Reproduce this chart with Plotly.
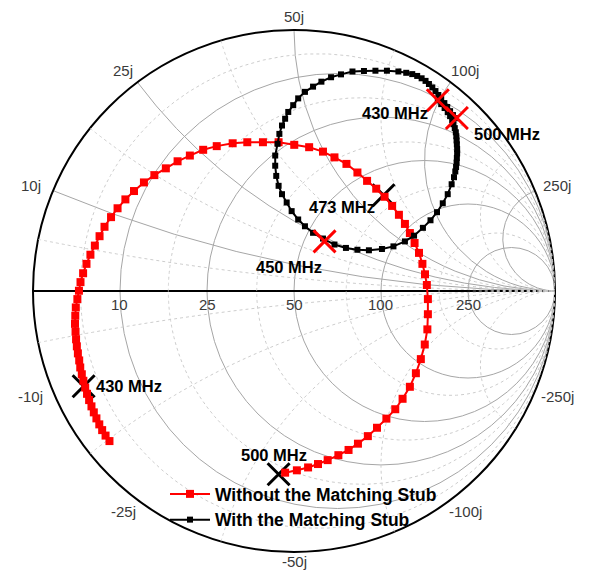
import numpy as np
import plotly.graph_objects as go

# Measured reflection coefficient S11 (real / imaginary parts), Z0 = 50 ohm
s11_without_re = [-0.707, -0.722, -0.735, -0.746, -0.757, -0.767, -0.776, -0.785, -0.793, -0.800,
                  -0.807, -0.813, -0.819, -0.823, -0.828, -0.832, -0.835, -0.837, -0.839, -0.838,
                  -0.836, -0.830, -0.824, -0.818, -0.808, -0.795, -0.780, -0.763, -0.745, -0.726,
                  -0.701, -0.676, -0.646, -0.613, -0.575, -0.535, -0.491, -0.446, -0.399, -0.348,
                  -0.296, -0.235, -0.179, -0.119, -0.059, 0.001, 0.058, 0.111, 0.155, 0.201,
                  0.243, 0.280, 0.315, 0.347, 0.376, 0.402, 0.425, 0.444, 0.462, 0.479,
                  0.492, 0.502, 0.509, 0.513, 0.513, 0.511, 0.501, 0.486, 0.467, 0.444,
                  0.416, 0.388, 0.354, 0.318, 0.283, 0.245, 0.209, 0.170, 0.129, 0.092,
                  0.054, 0.011, -0.034]
s11_without_im = [-0.575, -0.554, -0.533, -0.511, -0.488, -0.465, -0.442, -0.418, -0.394, -0.370,
                  -0.344, -0.319, -0.293, -0.266, -0.239, -0.212, -0.185, -0.156, -0.126, -0.095,
                  -0.063, -0.031, 0.001, 0.034, 0.068, 0.104, 0.139, 0.174, 0.210, 0.246,
                  0.283, 0.317, 0.351, 0.383, 0.416, 0.444, 0.470, 0.497, 0.519, 0.541,
                  0.555, 0.566, 0.570, 0.570, 0.570, 0.560, 0.551, 0.534, 0.512, 0.487,
                  0.454, 0.422, 0.392, 0.361, 0.326, 0.292, 0.257, 0.222, 0.184, 0.146,
                  0.104, 0.064, 0.023, -0.031, -0.089, -0.147, -0.205, -0.261, -0.315, -0.367,
                  -0.413, -0.453, -0.489, -0.524, -0.556, -0.585, -0.609, -0.629, -0.648, -0.663,
                  -0.676, -0.687, -0.696]

s11_with_re = [0.551, 0.564, 0.577, 0.589, 0.598, 0.606, 0.611, 0.616, 0.620, 0.622,
               0.623, 0.624, 0.625, 0.625, 0.624, 0.623, 0.621, 0.618, 0.613, 0.604,
               0.589, 0.570, 0.548, 0.523, 0.494, 0.460, 0.425, 0.381, 0.337, 0.287,
               0.243, 0.199, 0.155, 0.111, 0.073, 0.042, 0.016, -0.009, -0.028, -0.046,
               -0.059, -0.068, -0.072, -0.072, -0.063, -0.056, -0.046, -0.034, -0.022, -0.003,
               0.016, 0.042, 0.073, 0.105, 0.142, 0.180, 0.224, 0.268, 0.312, 0.356,
               0.400, 0.430, 0.453, 0.472, 0.489, 0.504, 0.517, 0.530, 0.542, 0.553,
               0.564, 0.576, 0.587, 0.598, 0.609, 0.619]
s11_with_im = [0.731, 0.716, 0.701, 0.685, 0.670, 0.654, 0.639, 0.624, 0.608, 0.593,
               0.577, 0.562, 0.544, 0.527, 0.510, 0.492, 0.475, 0.458, 0.436, 0.409,
               0.371, 0.336, 0.302, 0.271, 0.242, 0.212, 0.190, 0.171, 0.161, 0.156,
               0.158, 0.165, 0.178, 0.201, 0.223, 0.248, 0.274, 0.306, 0.339, 0.371,
               0.403, 0.441, 0.480, 0.519, 0.564, 0.602, 0.634, 0.660, 0.686, 0.712,
               0.738, 0.763, 0.783, 0.802, 0.819, 0.830, 0.841, 0.843, 0.844, 0.844,
               0.841, 0.836, 0.831, 0.824, 0.815, 0.805, 0.793, 0.780, 0.766, 0.751,
               0.736, 0.720, 0.705, 0.689, 0.674, 0.662]

# Frequency markers on each curve
mark_without_freq = ["430 MHz", "473 MHz", "500 MHz"]
mark_without_re = [-0.806, 0.343, -0.059]
mark_without_im = [-0.365, 0.367, -0.702]
mark_with_freq = ["430 MHz", "450 MHz", "500 MHz"]
mark_with_re = [0.551, 0.117, 0.624]
mark_with_im = [0.731, 0.190, 0.663]

Z0 = 50
resistance_ticks = [10, 25, 50, 100, 250]     # ohm
reactance_ticks = [10, 25, 50, 100, 250]      # ohm
minor_grid = [5, 17.5, 37.5, 75, 175]         # ohm

W, H = 592, 571
CX, CY, RAD = 294, 291, 261                   # chart centre and radius in px
FONT = "Liberation Sans, Arial, Helvetica, sans-serif"


def to_z(re, im):
    g = np.asarray(re) + 1j * np.asarray(im)
    return (1 + g) / (1 - g)


def paper(px, py):
    return px / W, 1 - py / H


def gamma_xy(g):
    return CX + RAD * g.real, CY - RAD * g.imag


fig = go.Figure()

# dotted minor grid
sweep = np.concatenate([-np.geomspace(1e3, 1e-3, 150), [0], np.geomspace(1e-3, 1e3, 150)])
half = np.concatenate([[0], np.geomspace(1e-3, 1e3, 200)])
minor_line = dict(color="#cdcdcd", width=1, dash="dot")
for v in minor_grid:
    n = v / Z0
    fig.add_trace(go.Scattersmith(real=np.full(sweep.size, n), imag=sweep, mode="lines",
                                  line=minor_line, hoverinfo="skip", showlegend=False))
    for s in (1, -1):
        fig.add_trace(go.Scattersmith(real=half, imag=np.full(half.size, s * n), mode="lines",
                                      line=minor_line, hoverinfo="skip", showlegend=False))

# black crosses on the curve without the stub (drawn beneath the curves)
zm = to_z(mark_without_re, mark_without_im)
fig.add_trace(go.Scattersmith(real=zm.real, imag=zm.imag, mode="markers",
                              marker=dict(symbol="x-thin", size=22, line=dict(width=3, color="black")),
                              showlegend=False, hoverinfo="skip"))

z1 = to_z(s11_without_re, s11_without_im)
fig.add_trace(go.Scattersmith(real=z1.real, imag=z1.imag, mode="lines+markers",
                              name="Without the Matching Stub",
                              line=dict(color="#ff0000", width=2),
                              marker=dict(symbol="square", size=8, color="#ff0000")))

z2 = to_z(s11_with_re, s11_with_im)
fig.add_trace(go.Scattersmith(real=z2.real, imag=z2.imag, mode="lines+markers",
                              name="With the Matching Stub",
                              line=dict(color="black", width=2),
                              marker=dict(symbol="square", size=6, color="black")))

zw = to_z(mark_with_re, mark_with_im)
fig.add_trace(go.Scattersmith(real=zw.real, imag=zw.imag, mode="markers",
                              marker=dict(symbol="x-thin", size=22, line=dict(width=3, color="#ff0000")),
                              showlegend=False, hoverinfo="skip"))

annotations = []

# reactance labels around the rim
for x in reactance_ticks:
    for s in (1, -1):
        g = (1j * s * x / Z0 - 1) / (1j * s * x / Z0 + 1)
        ang = np.angle(g)
        px = CX + np.cos(ang) * (RAD + 24)
        py = CY - np.sin(ang) * (RAD + 14)
        py = min(max(py, 15), 561)
        ax, ay = paper(px, py)
        annotations.append(dict(x=ax, y=ay, xref="paper", yref="paper", showarrow=False,
                                text=f"{'-' if s < 0 else ''}{x}j",
                                font=dict(family=FONT, size=15, color="#3a3a3a"),
                                xanchor="center", yanchor="middle"))

# resistance labels under the real axis
for r in resistance_ticks:
    g = (r / Z0 - 1) / (r / Z0 + 1)
    ax, ay = paper(CX + RAD * g, CY + 13)
    annotations.append(dict(x=ax, y=ay, xref="paper", yref="paper", showarrow=False,
                            text=str(r), font=dict(family=FONT, size=15, color="#3a3a3a"),
                            xanchor="center", yanchor="middle"))

# frequency labels, offset in px from their markers
offs_without = [(10, 0, "left"), (-42, 12, "center"), (-5, -19, "center")]
offs_with = [(-43, 13, "center"), (-36, 26, "center"), (50, 16, "center")]
for freqs, res, ims, offs in ((mark_without_freq, mark_without_re, mark_without_im, offs_without),
                              (mark_with_freq, mark_with_re, mark_with_im, offs_with)):
    for f, a, b, (dx, dy, anc) in zip(freqs, res, ims, offs):
        px, py = gamma_xy(complex(a, b))
        ax, ay = paper(px + dx, py + dy)
        annotations.append(dict(x=ax, y=ay, xref="paper", yref="paper", showarrow=False,
                                text=f, font=dict(family=FONT, size=16.5, color="black", weight="bold"),
                                xanchor=anc, yanchor="middle"))

fig.update_layout(
    width=W, height=H,
    margin=dict(l=0, r=0, t=0, b=0),
    paper_bgcolor="white",
    smith=dict(
        domain=dict(x=[(CX - RAD) / W, (CX + RAD) / W], y=[1 - (CY + RAD) / H, 1 - (CY - RAD) / H]),
        bgcolor="white",
        realaxis=dict(tickvals=[r / Z0 for r in resistance_ticks], showticklabels=False, ticks="",
                      gridcolor="#a6a6a6", gridwidth=1, showline=True, linecolor="black",
                      linewidth=2, layer="below traces"),
        imaginaryaxis=dict(tickvals=[x / Z0 for x in reactance_ticks], showticklabels=False, ticks="",
                           gridcolor="#a6a6a6", gridwidth=1, showline=True, linecolor="black",
                           linewidth=2, layer="below traces"),
    ),
    legend=dict(x=165 / W, y=1 - 476 / H, xanchor="left", yanchor="top",
                bgcolor="rgba(0,0,0,0)", itemwidth=40, tracegroupgap=0,
                font=dict(family=FONT, size=17.5, color="black", weight="bold")),
    annotations=annotations,
    showlegend=True,
)

fig.write_html("out.html")
